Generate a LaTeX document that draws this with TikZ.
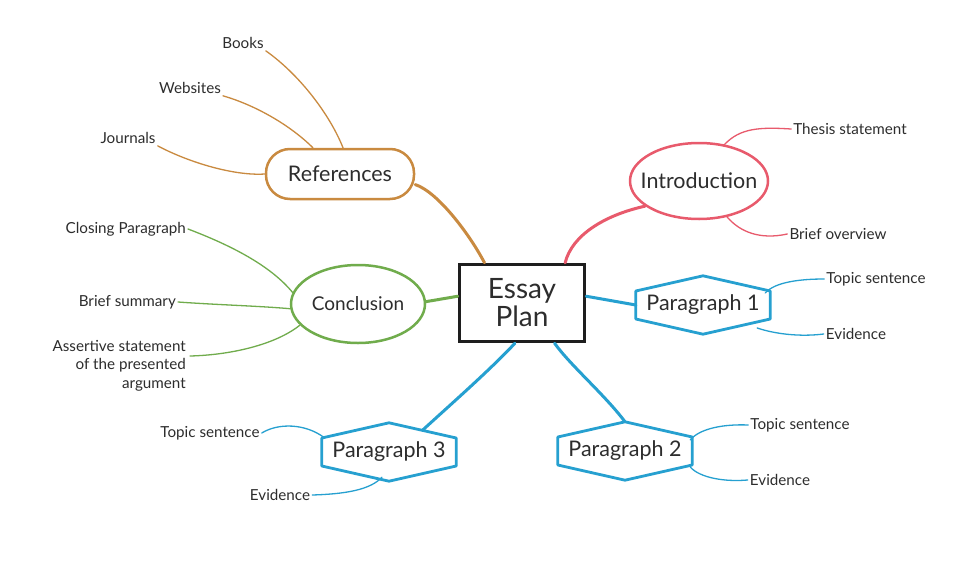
\documentclass[tikz,border=0pt]{standalone}
\usepackage{fontspec}
\setmainfont{Lato}
\usetikzlibrary{calc,shapes.geometric}
\definecolor{inkc}{RGB}{45,45,45}
\definecolor{redc}{RGB}{232,90,108}
\definecolor{orangec}{RGB}{201,138,64}
\definecolor{greenc}{RGB}{112,172,76}
\definecolor{bluec}{RGB}{38,160,208}
\definecolor{boxc}{RGB}{30,30,30}
\begin{document}
\begin{tikzpicture}[x=1pt,y=-1pt,
  leaf/.style={font=\fontsize{15.2}{18.5}\selectfont, text=inkc, inner sep=2pt},
  mainlbl/.style={font=\fontsize{21.5}{24}\selectfont, text=inkc},
  thinline/.style={line width=1.3pt, line cap=round},
  thickline/.style={line width=3pt, line cap=round},
  hexnode/.style={mainlbl, minimum width=134pt, minimum height=58pt, inner sep=0pt},
  hexline/.style={draw=bluec, line width=2.8pt, line join=round},
]
\useasboundingbox[fill=white] (0,0) rectangle (979,570);

% main nodes
\node[draw=boxc, line width=3.5pt, minimum width=125pt, minimum height=77pt, align=center,
      font=\fontsize{28}{28}\selectfont, text=inkc] (plan) at (522,303) {Essay\\Plan};
\node[ellipse, draw=redc, line width=2.5pt, minimum width=138pt, minimum height=76pt, mainlbl] (intro) at (699,181) {\makebox[0pt]{Introduction}};
\node[draw=orangec, line width=2.5pt, rounded corners=24pt, minimum width=148pt, minimum height=50pt, mainlbl] (refs) at (340,174) {\makebox[0pt]{References}};
\node[ellipse, draw=greenc, line width=2.5pt, minimum width=134pt, minimum height=78pt, mainlbl, font=\fontsize{19}{22}\selectfont] (concl) at (358,304) {\makebox[0pt]{Conclusion}};
\node[hexnode] (p1) at (703,305) {\makebox[0pt]{Paragraph 1}};
\node[hexnode] (p2) at (625,451) {\makebox[0pt]{Paragraph 2}};
\node[hexnode] (p3) at (389,452) {\makebox[0pt]{Paragraph 3}};
\foreach \n in {p1,p2,p3}
  \draw[hexline] ($(\n.west)+(0,-14)$) -- (\n.north) -- ($(\n.east)+(0,-14)$) -- ($(\n.east)+(0,14)$) -- (\n.south) -- ($(\n.west)+(0,14)$) -- cycle;

% leaves
\node[leaf] (books) at (243,43) {Books};
\node[leaf] (websites) at (190,88) {Websites};
\node[leaf] (journals) at (128,138) {Journals};
\node[leaf] (thesis) at (850,129) {Thesis statement};
\node[leaf] (overview) at (838,234) {Brief overview};
\node[leaf] (topic1) at (876,279) {Topic sentence};
\node[leaf] (evid1) at (856,334) {Evidence};
\node[leaf] (topic2) at (800,425) {Topic sentence};
\node[leaf] (evid2) at (780,480) {Evidence};
\node[leaf] (topic3) at (210,433) {Topic sentence};
\node[leaf] (evid3) at (280,495) {Evidence};
\node[leaf, anchor=east] (closing) at (188,229) {Closing Paragraph};
\node[leaf, anchor=east] (summary) at (178,302) {Brief summary};
\node[leaf, anchor=north east, align=right] (assert) at (188,338) {Assertive statement\\of the presented\\argument};

% main connectors
\draw[thickline, orangec] (refs.-8) .. controls (438,192) and (470,235) .. (plan.133);
\draw[thickline, redc] (plan.43) .. controls (572,235) and (605,215) .. (intro.205);
\draw[thickline, greenc] (concl.2) -- (plan.174);
\draw[thickline, bluec] (plan.6) -- (p1.west);
\draw[thickline, bluec] (plan.-51) .. controls (570,365) and (605,395) .. (p2.north);
\draw[thickline, bluec] (plan.-100) .. controls (490,370) and (450,405) .. ($(p3.north)+(34,7)$);

% leaf connectors
\draw[thinline, orangec] (books.south east) .. controls (300,75) and (330,115) .. ($(refs.north)+(3,0)$);
\draw[thinline, orangec] (websites.south east) .. controls (255,105) and (290,125) .. ($(refs.north west)!0.32!(refs.north east)$);
\draw[thinline, orangec] (journals.south east) .. controls (190,163) and (235,176) .. (refs.west);
\draw[thinline, redc] (intro.55) .. controls (740,128) and (760,127) .. (thesis.west);
\draw[thinline, redc] (intro.-52) .. controls (740,232) and (760,240) .. (overview.west);
\draw[thinline, bluec] ($(p1.east)+(-5,-12)$) .. controls (775,282) and (800,279) .. (topic1.west);
\draw[thinline, bluec] ($(p1.east)+(-13,23)$) .. controls (775,334) and (800,337) .. (evid1.west);
\draw[thinline, bluec] ($(p2.east)+(-2,-11)$) .. controls (700,428) and (725,424) .. (topic2.west);
\draw[thinline, bluec] ($(p2.east)+(-2,16)$) .. controls (700,478) and (725,482) .. (evid2.west);
\draw[thinline, bluec] (topic3.east) .. controls (278,423) and (305,423) .. ($(p3.west)+(3,-14)$);
\draw[thinline, bluec] (evid3.east) .. controls (345,494) and (370,490) .. ($(p3.south)+(-7,-4)$);
\draw[thinline, greenc] (closing.east) .. controls (230,245) and (270,265) .. (concl.170);
\draw[thinline, greenc] (summary.east) .. controls (220,305) and (260,306) .. (concl.184);
\draw[thinline, greenc] ($(assert.north east)+(2,18)$) .. controls (230,355) and (275,345) .. (concl.200);
\end{tikzpicture}
\end{document}
